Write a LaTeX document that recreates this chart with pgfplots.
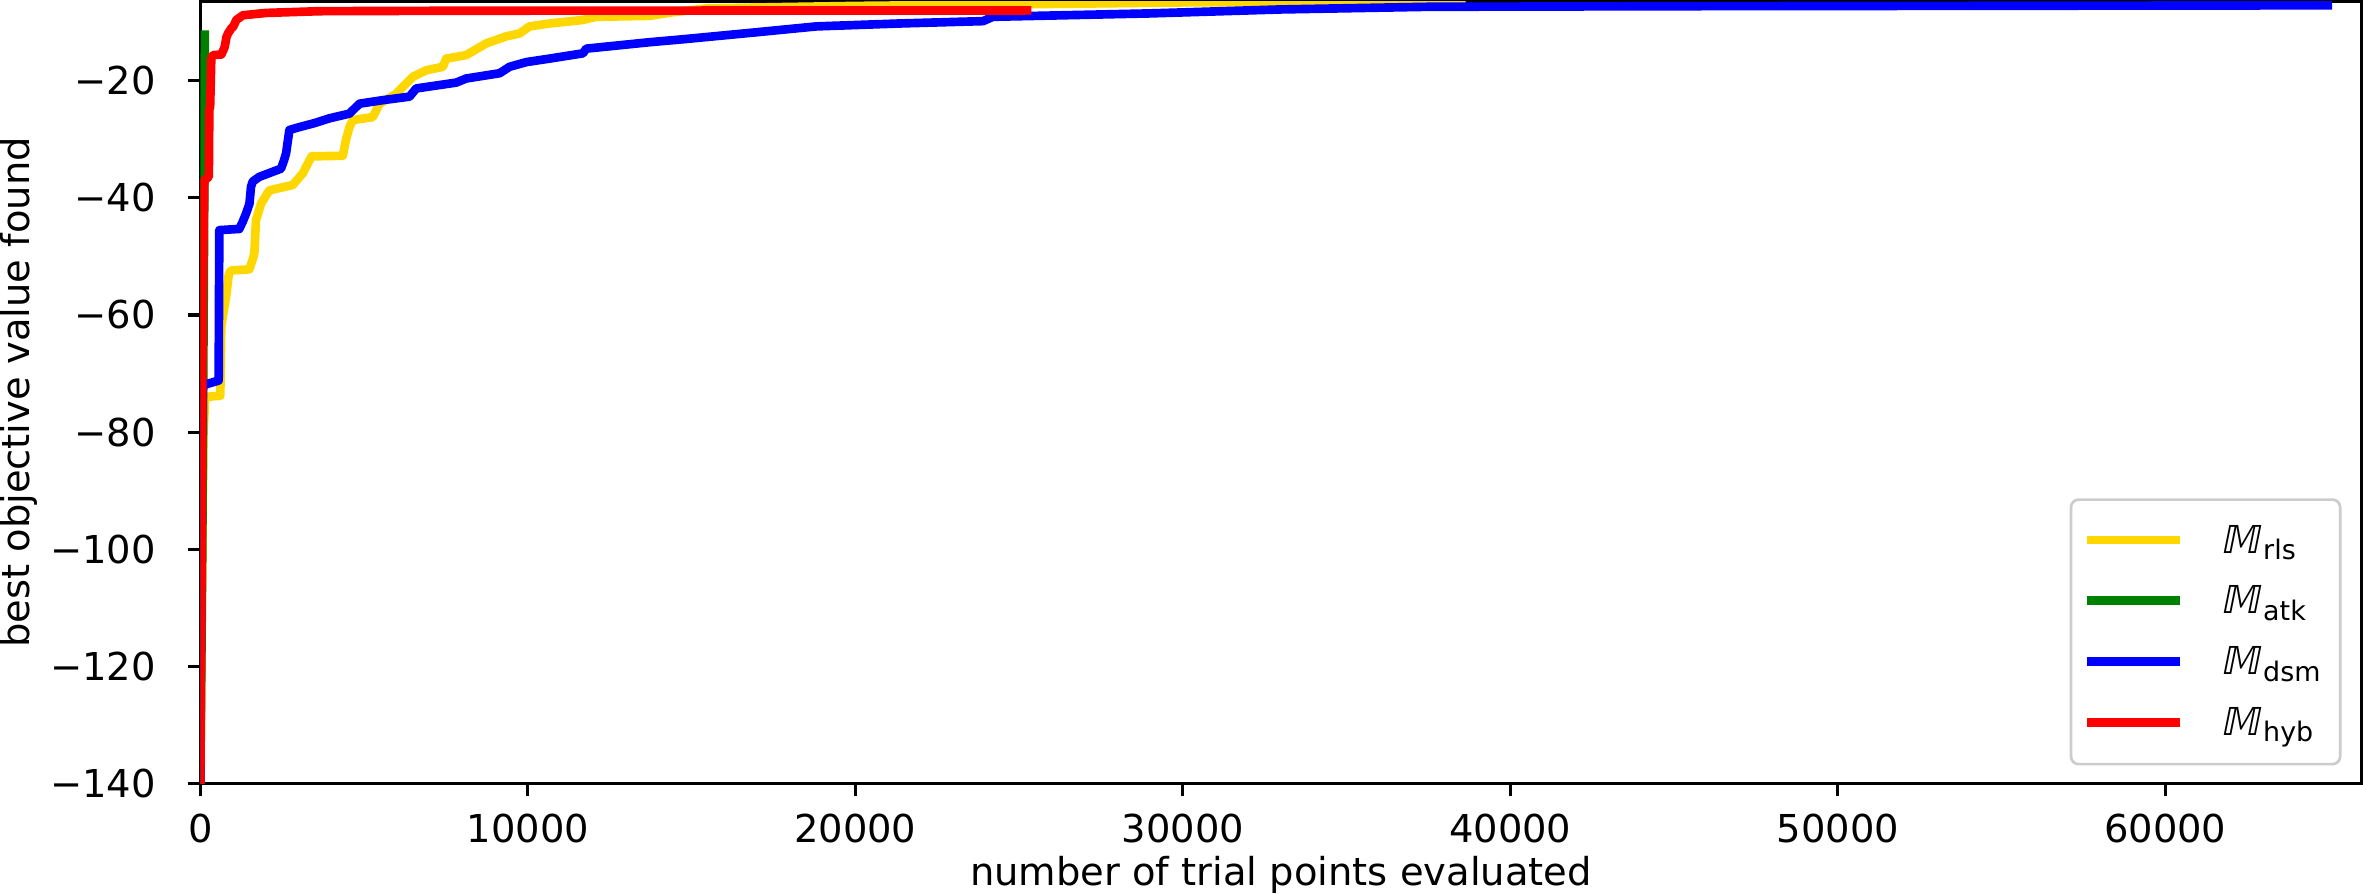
\documentclass[border=0pt]{standalone}
\usepackage{fontspec}
\setmainfont{DejaVu Sans}
\newfontfamily\slantdv[FakeSlant=0.2]{DejaVu Sans}
\usepackage{pgfplots}
\pgfplotsset{compat=1.18}
\definecolor{mgold}{RGB}{255,215,0}
\definecolor{mgreen}{RGB}{0,128,0}
\definecolor{mblue}{RGB}{0,0,255}
\definecolor{mred}{RGB}{255,0,0}
\newcommand{\Msub}[1]{{\slantdv 𝕄}\kern0.9pt\raisebox{-1.7pt}{\fontsize{7}{8}\selectfont #1}}
\begin{document}
\begin{tikzpicture}
\begin{axis}[
  width=562.1pt, height=203.4pt, scale only axis,
  xmin=0, xmax=65990, ymin=-140.05, ymax=-6.45,
  scaled x ticks=false, scaled y ticks=false,
  axis line style={line width=0.8pt},
  tick pos=left, tick align=outside,
  major tick length=3.3pt,
  every tick/.style={black, line width=0.8pt},
  xtick={0,10000,20000,30000,40000,50000,60000},
  xticklabels={0,10000,20000,30000,40000,50000,60000},
  ytick={-140,-120,-100,-80,-60,-40,-20},
  yticklabels={−140,−120,−100,−80,−60,−40,−20},
  xticklabel style={anchor=north, inner sep=0pt, yshift=-4.4pt},
  yticklabel style={anchor=east, inner sep=0pt, xshift=-8.1pt},
  xlabel={number of trial points evaluated},
  ylabel={best objective value found},
  every axis x label/.style={at={(axis description cs:0.5,0)}, anchor=base, inner sep=0pt, yshift=-26.55pt},
  every axis y label/.style={at={(axis description cs:-0.09305,0.5)}, rotate=90, anchor=north, inner sep=0pt},
  legend cell align=left,
  legend style={at={(axis description cs:1,0)}, anchor=south east, xshift=-5.2pt, yshift=4.7pt,
    draw=black!20, line width=0.7pt, rounded corners=2pt, fill=white,
    inner xsep=3.1pt, inner ysep=4pt, row sep=2.4pt, column sep=7.5pt,
    cells={anchor=base west, text height=7.9pt, text depth=5.6pt, inner sep=0pt}},
  legend image code/.code={\draw[#1, line width=2.25pt, line cap=butt, rounded corners=0pt] (0pt,3.4pt) -- (24pt,3.4pt);},
  every axis plot/.append style={line width=2.25pt, line join=round, line cap=rect},
]
% M_rls
\addplot[mgold] coordinates {
(0,-140) (40,-110) (100,-80) (150,-74) (610,-73.8) (640,-62) (700,-59.8) (785,-56.9)
(870,-53) (937,-52.4) (1497,-52.2) (1600,-50.5) (1650,-49.5) (1700,-43.8) (1853,-41)
(2108,-38.7) (2820,-37.8) (3128,-35.8) (3332,-33.6) (3400,-32.9) (4350,-32.8) (4450,-30)
(4554,-27.9) (4656,-26.7) (5267,-26.2) (5470,-23.9) (5980,-22.2) (6490,-19.3) (6897,-18.2)
(7407,-17.6) (7509,-16.2) (8120,-15.6) (8731,-13.6) (9342,-12.4) (9750,-11.9) (10054,-10.7)
(10665,-10.2) (11683,-9.6) (12090,-9.06) (13720,-8.9) (14400,-8.3) (15500,-7.6) (20000,-7.2)
(25400,-6.9) (30000,-6.6) (36500,-6.5) (38500,-6.45)
};
\addlegendentry{\Msub{rls}}
% M_atk
\addplot[mgreen] coordinates {
(0,-140) (60,-100) (100,-60) (120,-40) (130,-25) (140,-12.1)
};
\addlegendentry{\Msub{atk}}
% M_dsm
\addplot[mblue] coordinates {
(0,-140) (20,-100) (50,-80) (80,-72) (560,-71.2) (580,-45.5) (1190,-45.3) (1300,-44)
(1395,-42.7) (1500,-41) (1548,-38.1) (1600,-37.2) (1802,-36.4) (2465,-35) (2560,-33.5)
(2618,-32.4) (2720,-28.4) (3026,-27.9) (3500,-27.2) (3943,-26.4) (4554,-25.6) (4860,-23.9)
(5573,-23.3) (6388,-22.7) (6592,-21.3) (7814,-20.3) (8120,-19.6) (9138,-18.7) (9443,-17.6)
(9952,-16.8) (10665,-16.2) (11683,-15.3) (11785,-14.5) (13720,-13.4) (14735,-12.9)
(16800,-11.8) (18810,-10.7) (21354,-10.2) (23900,-9.8) (24200,-9.06) (28990,-8.48)
(33000,-7.8) (37500,-7.35) (45000,-7.25) (52000,-7.2) (64960,-7.1)
};
\addlegendentry{\Msub{dsm}}
% M_hyb
\addplot[mred] coordinates {
(0,-140) (40,-100) (70,-60) (100,-44.4) (120,-37) (260,-36.4) (275,-25) (300,-24.4)
(336,-16) (400,-15.6) (642,-15.5) (700,-14.8) (744,-14.2) (800,-12.5) (846,-11.9)
(950,-11) (1000,-10.8) (1100,-9.6) (1300,-8.8) (2000,-8.4) (3640,-8.1) (8000,-8.02)
(13720,-8.0) (25240,-7.97)
};
\addlegendentry{\Msub{hyb}}
\end{axis}
\end{tikzpicture}
\end{document}
